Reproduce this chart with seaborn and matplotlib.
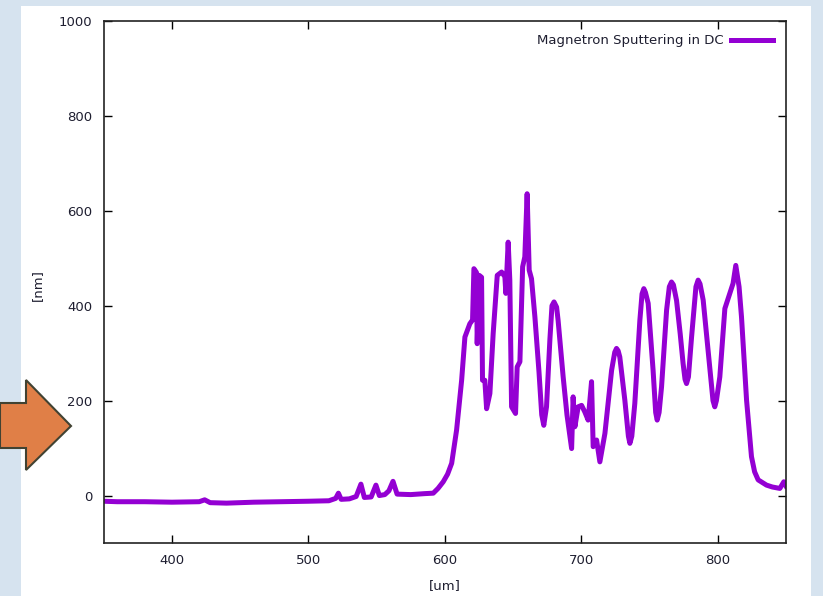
import numpy as np
import pandas as pd
import matplotlib
matplotlib.use("Agg")
import matplotlib.pyplot as plt
from matplotlib.patches import Rectangle, Polygon
import seaborn as sb

# spectrum
wavelength = [350, 360, 380, 400, 420, 424, 428, 440, 460, 480, 500, 515, 520, 522, 524,
              530, 535, 538.5, 541, 546, 549.5, 552, 556, 559, 562, 565, 575, 585, 591.5,
              595, 598.8, 602, 605, 608.6, 612.3, 614.7, 618.3, 620.3, 621.3, 623.2, 623.7,
              625.2, 626.9, 627.6, 629.3, 630.6, 633, 635.4, 638.4, 641.6, 644, 644.7, 646.4,
              647.6, 648.9, 651.8, 653, 655, 657, 658.6, 660.3, 661.8, 663.5, 666, 669, 671,
              672.5, 674.5, 677, 678.5, 680, 681.9, 683, 686.7, 689.5, 692.9, 694, 695.3,
              697.7, 700.2, 702.6, 705, 707.5, 708.7, 711.2, 713.6, 717.3, 722.2, 724.5,
              725.8, 727, 728.2, 731.9, 734.5, 735.6, 737, 739.2, 742.9, 744.5, 745.8, 747,
              749, 752.6, 754.5, 755.6, 757, 758.8, 762.5, 764.5, 766.1, 767.5, 769.8, 772.5,
              774.6, 776, 777.1, 778.5, 780.8, 784, 785.6, 787, 789.3, 792.9, 796.5, 797.8,
              799, 801.5, 805.2, 808.8, 811.2, 813.2, 815.6, 817.4, 821.1, 824.7, 827, 829.6,
              835.7, 840, 845.5, 848.4, 850]
thickness = [-12, -13, -13, -14, -13, -9, -15, -16, -14, -13, -12, -11, -6, 5, -8,
             -7, -2, 24, -4, -3, 22, 0, 2, 10, 30, 3, 2, 4, 5,
             15, 29, 45, 68, 138, 243, 334, 362, 370, 478, 470, 320,
             464, 460, 243, 243, 183, 215, 341, 464, 471, 461, 426, 534,
             454, 187, 173, 271, 282, 482, 503, 636, 475, 457, 376, 260, 170,
             148, 187, 330, 400, 408, 397, 369, 250, 170, 99, 208, 145,
             187, 190, 176, 159, 240, 103, 117, 71, 131, 264, 302,
             310, 305, 292, 201, 125, 110, 125, 194, 369, 425, 436, 428,
             405, 264, 175, 159, 175, 229, 391, 440, 450, 444, 411, 340,
             278, 245, 236, 250, 334, 440, 454, 446, 412, 306, 200, 187,
             200, 250, 394, 426, 447, 485, 440, 376, 201, 82, 50, 33,
             22, 18, 15, 29, 20]
df = pd.DataFrame({"um": wavelength, "nm": thickness})

W, H = 823, 596
plt.rc("font", family="DejaVu Sans", size=9.5)
fig = plt.figure(figsize=(W / 100, H / 100), dpi=100)
fig.patch.set_facecolor("#D6E3EF")

# white slide panel and orange arrow (pixel coords, y measured from top)
fig.patches.append(Rectangle((21 / W, 0), (811 - 21) / W, (H - 6) / H,
                             transform=fig.transFigure, facecolor="white",
                             edgecolor="none", zorder=-2))
arrow = [(0, 403), (26, 403), (26, 380), (71, 426), (26, 470), (26, 448), (0, 448)]
fig.patches.append(Polygon([(x / W, 1 - y / H) for x, y in arrow], closed=True,
                           transform=fig.transFigure, facecolor="#E07F47",
                           edgecolor="#414232", linewidth=1.5, zorder=-1))

ax = fig.add_axes([103.7 / W, (H - 543) / H, (786 - 103.7) / W, (543 - 21) / H])
ax.set_zorder(2)
ax.set_facecolor("white")

sb.lineplot(data=df, x="um", y="nm", ax=ax, estimator=None, sort=False,
            color="#9400D3", linewidth=3.6, label="Magnetron Sputtering in DC",
            solid_joinstyle="round")

ax.set_xlim(350, 850)
ax.set_ylim(-100, 1000)
ax.set_xticks([400, 500, 600, 700, 800])
ax.set_yticks([0, 200, 400, 600, 800, 1000])
ax.tick_params(direction="in", length=6, width=1, top=True, right=True,
               labelcolor="#1e1e30", pad=8)
for s in ax.spines.values():
    s.set_linewidth(1.2)
    s.set_color("#222222")

ax.set_xlabel("[um]", color="#1e1e30")
ax.set_ylabel("[nm]", color="#1e1e30")
ax.xaxis.set_label_coords((445 - 103.7) / (786 - 103.7), -(579 - 543) / (543 - 21))
ax.yaxis.set_label_coords(-(103.7 - 44) / (786 - 103.7), (543 - 285) / (543 - 21))

leg = ax.legend(loc="upper right", frameon=False, markerfirst=False,
                handlelength=3.2, borderaxespad=0.6, handletextpad=0.5)
for t in leg.get_texts():
    t.set_color("#1e1e30")

plt.savefig("out.png", dpi=100, facecolor=fig.get_facecolor())
